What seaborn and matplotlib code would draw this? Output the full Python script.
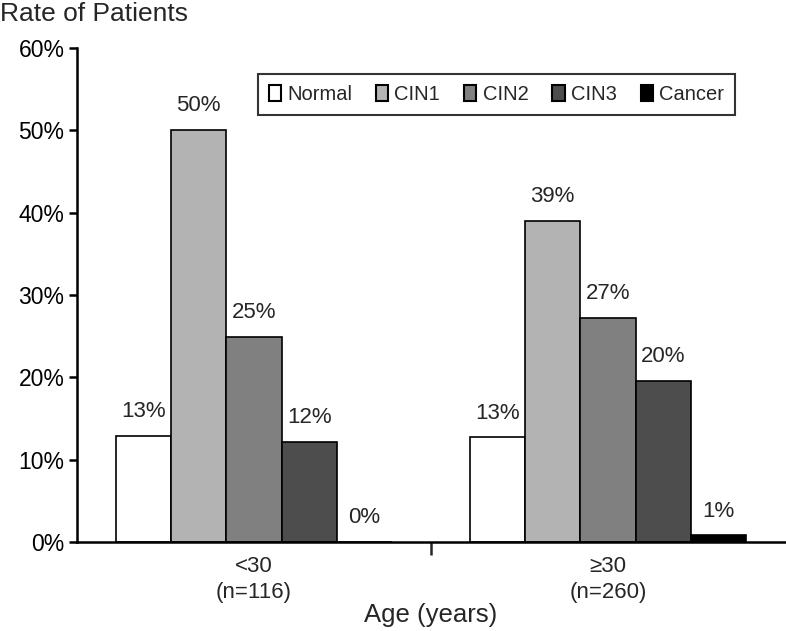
import matplotlib
matplotlib.use("Agg")
import matplotlib.pyplot as plt
import seaborn as sns
import pandas as pd
from matplotlib.ticker import FixedLocator, FuncFormatter

categories = ["<30\n(n=116)", "\u226530\n(n=260)"]
grades = ["Normal", "CIN1", "CIN2", "CIN3", "Cancer"]
under30 = [12.9, 50.0, 24.9, 12.1, 0.0]
over30 = [12.7, 39.0, 27.2, 19.6, 0.8]
labels_under30 = ["13%", "50%", "25%", "12%", "0%"]
labels_over30 = ["13%", "39%", "27%", "20%", "1%"]
colors = ["#ffffff", "#b3b3b3", "#808080", "#4d4d4d", "#000000"]

rows = []
for cat, vals in zip(categories, [under30, over30]):
    for g, v in zip(grades, vals):
        rows.append({"Age": cat, "Grade": g, "Rate": v})
df = pd.DataFrame(rows)

sns.set_theme(style="white")
plt.rcParams['font.family'] = ['Liberation Sans', 'DejaVu Sans']

fig = plt.figure(figsize=(7.86, 6.31), dpi=100)
ax = fig.add_axes([77/786, 1-542/631, (785-77)/786, (542-48)/631])

sns.barplot(data=df, x="Age", y="Rate", hue="Grade", order=categories,
            hue_order=grades, palette=colors, edgecolor="black", linewidth=1.2,
            width=0.78, saturation=1, ax=ax, legend=False)

ax.set_xlim(-0.5, 1.5)
ax.set_ylim(0, 60)
ax.set_yticks(range(0, 61, 10))
ax.yaxis.set_major_formatter(FuncFormatter(lambda v, p: f"{int(v)}%"))
ax.tick_params(axis='y', direction='out', length=6, width=1.8, left=True,
               labelsize=16.5, pad=3, colors='black')
ax.tick_params(axis='x', which='major', length=0, labelsize=16, pad=10)
for t in ax.get_xticklabels():
    t.set_linespacing(1.3)
ax.xaxis.set_minor_locator(FixedLocator([0.5]))
ax.tick_params(axis='x', which='minor', direction='out', length=9, width=1.8, bottom=True)
for s in ["top", "right"]:
    ax.spines[s].set_visible(False)
for s in ["left", "bottom"]:
    ax.spines[s].set_color("black")
    ax.spines[s].set_linewidth(1.8)

ax.set_xlabel("Age (years)", fontsize=18.5, labelpad=0)
ax.set_ylabel("")
fig.text(0.0, 1-14/631, "Rate of Patients", fontsize=19, va="center", ha="left")

# value labels
containers = ax.containers
for gi, cont in enumerate(containers):
    for ci, bar in enumerate(cont):
        lab = [labels_under30, labels_over30][ci][gi]
        ax.annotate(lab, (bar.get_x() + bar.get_width()/2, bar.get_height()),
                    xytext=(0, 10), textcoords="offset points", ha="center",
                    va="bottom", fontsize=16)

# legend
from matplotlib.patches import Patch
handles = [Patch(facecolor=c, edgecolor="black", linewidth=1.5) for c in colors]
leg = ax.legend(handles, grades, loc="upper left", bbox_to_anchor=((258-77)/708, 1-(74-48)/494),
                ncol=5, frameon=True, fontsize=14.5, handlelength=0.6, handleheight=0.8,
                handletextpad=0.3, columnspacing=1.2, borderpad=0.55, fancybox=False,
                edgecolor="black", borderaxespad=0)
leg.get_frame().set_linewidth(1.5)

fig.savefig("out.png", dpi=100)
